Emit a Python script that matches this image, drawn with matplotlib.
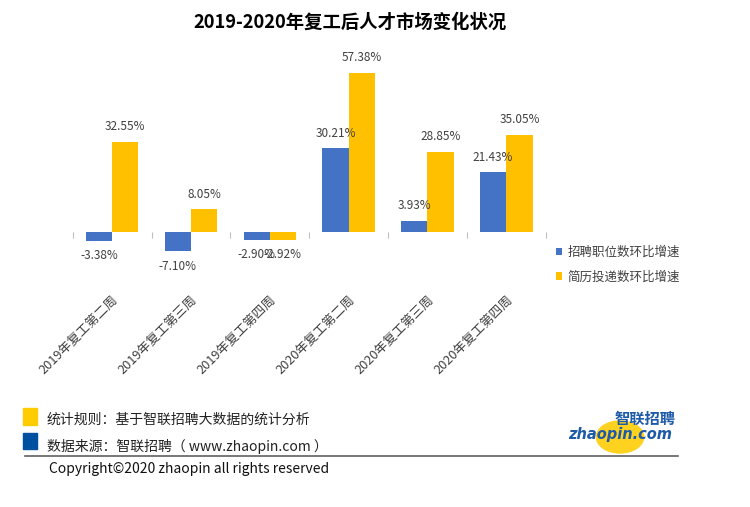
import matplotlib
matplotlib.use("Agg")
import matplotlib.pyplot as plt
from matplotlib.patches import Rectangle, Circle
from matplotlib.lines import Line2D

plt.rcParams['font.family'] = ['Noto Sans CJK SC', 'DejaVu Sans']

weeks = ["2019年复工第二周", "2019年复工第三周", "2019年复工第四周",
         "2020年复工第二周", "2020年复工第三周", "2020年复工第四周"]
jobs = [-3.38, -7.10, -2.90, 30.21, 3.93, 21.43]      # 招聘职位数环比增速
resumes = [32.55, 8.05, -2.92, 57.38, 28.85, 35.05]   # 简历投递数环比增速
series_names = ["招聘职位数环比增速", "简历投递数环比增速"]

blue = "#4472C4"
yellow = "#FFC000"
txt = "#404040"

fig = plt.figure(figsize=(7.5, 5.07), dpi=100)
W, H = 750, 507
ax = fig.add_axes([72.7 / W, 1 - 287.1 / H, 473 / W, (287.1 - 51.65) / H])

x = list(range(len(weeks)))
w = 1 / 3
b1 = ax.bar([i - w / 2 for i in x], jobs, width=w, color=blue, label=series_names[0])
b2 = ax.bar([i + w / 2 for i in x], resumes, width=w, color=yellow, label=series_names[1])
ax.bar_label(b1, fmt='{:.2f}%', padding=6, fontsize=8.5, color=txt)
ax.bar_label(b2, fmt='{:.2f}%', padding=6, fontsize=8.5, color=txt)

ax.set_xlim(-0.5, 5.5)
ax.set_ylim(-20, 65)
for s in ["top", "right", "left"]:
    ax.spines[s].set_visible(False)
ax.spines["bottom"].set_position(("data", 0))
ax.spines["bottom"].set_visible(False)
ax.set_yticks([])

ax.set_xticks(x)
ax.set_xticklabels(weeks, fontsize=9.2, color=txt)
ax.set_xticks([i - 0.5 for i in range(len(weeks) + 1)], minor=True)
ax.tick_params(axis="x", which="major", length=0, pad=45)
ax.tick_params(axis="x", which="minor", length=4, width=0.8, color="#BFBFBF", direction="out")
plt.setp(ax.get_xticklabels(), rotation=45, ha="right", rotation_mode="anchor")

ax.legend(loc="center left", bbox_to_anchor=(556 / W, 1 - 264.5 / H), bbox_transform=fig.transFigure,
          frameon=False, fontsize=9, handlelength=0.5, handleheight=0.5, handletextpad=0.45,
          labelspacing=0.95, borderpad=0, borderaxespad=0, labelcolor=txt)

fig.text(350 / W, 1 - 22.7 / H, "2019-2020年复工后人才市场变化状况", ha="center", va="center",
         fontsize=13.2, fontweight="bold", color="black")

# footer
fig.patches.append(Rectangle((22.7 / W, 1 - 425 / H), 14.6 / W, 16.7 / H, transform=fig.transFigure,
                             color="#FFCC00", zorder=3))
fig.patches.append(Rectangle((22.7 / W, 1 - 449 / H), 14.6 / W, 16.3 / H, transform=fig.transFigure,
                             color="#0050A0", zorder=3))
fig.text(46.7 / W, 1 - 420 / H, "统计规则：基于智联招聘大数据的统计分析", va="center", fontsize=10, color="#222222")
fig.text(46.7 / W, 1 - 446.7 / H, "数据来源：智联招聘（ www.zhaopin.com ）", va="center", fontsize=10, color="#222222")
fig.lines.append(Line2D([25 / W, 678 / W], [1 - 456 / H, 1 - 456 / H], transform=fig.transFigure,
                        color="#606060", lw=1.2))
fig.text(49 / W, 1 - 469 / H, "Copyright©2020 zhaopin all rights reserved", va="center", fontsize=10,
         color="#111111")

# logo
fig.patches.append(Circle((620 / W, 1 - 437 / H), 16 / H, transform=fig.transFigure, color="#FFD21F", zorder=2))
fig.text(645 / W, 1 - 419 / H, "智联招聘", ha="center", va="center", fontsize=11, fontweight="bold",
         style="italic", color="#1E5AA8", zorder=4)
fig.text(620 / W, 1 - 435 / H, "zhaopin.com", ha="center", va="center", fontsize=10.5, fontweight="bold",
         style="italic", color="#1E5AA8", family="DejaVu Sans", zorder=4)

fig.savefig("out.png", dpi=100)
